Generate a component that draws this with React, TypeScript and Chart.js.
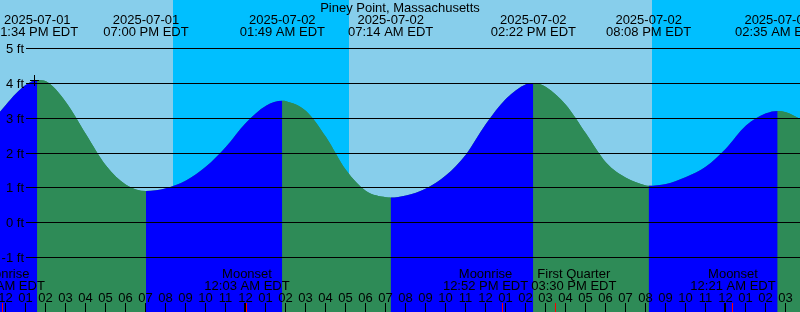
import React, { useEffect, useRef } from "react";
import { Chart, registerables } from "chart.js";

Chart.register(...registerables);

// ---- data (hours counted from 2025-07-01 12:00 PM EDT) ----
const title = "Piney Point, Massachusetts";

const tideHours = [
  -0.3, 0, 0.5, 1, 1.567, 2, 3, 4, 5, 6, 7, 8, 9, 10, 11, 12, 13, 13.817, 14, 15,
  16, 17, 18, 19, 19.233, 20, 21, 22, 23, 24, 25, 26, 26.367, 27, 28, 29, 30, 31,
  32, 32.133, 33, 34, 35, 36, 37, 38, 38.583, 39, 39.7,
];
const tideHeights = [
  3.18, 3.38, 3.7, 3.95, 4.09, 4.05, 3.45, 2.53, 1.63, 1.08, 0.9, 0.98, 1.2, 1.6,
  2.17, 2.86, 3.35, 3.49, 3.48, 3.2, 2.45, 1.5, 0.9, 0.72, 0.71, 0.77, 0.97, 1.35,
  1.95, 2.83, 3.55, 3.97, 4.0, 3.89, 3.37, 2.55, 1.72, 1.28, 1.06, 1.05, 1.1, 1.3,
  1.6, 2.12, 2.78, 3.13, 3.2, 3.16, 2.97,
];

const extremeHours = [1.567, 7.0, 13.817, 19.233, 26.367, 32.133, 38.583];
const extremeDates = [
  "2025-07-01", "2025-07-01", "2025-07-02", "2025-07-02", "2025-07-02", "2025-07-02", "2025-07-03",
];
const extremeTimes = [
  " 1:34 PM EDT", "07:00 PM EDT", "01:49 AM EDT", "07:14 AM EDT", "02:22 PM EDT", "08:08 PM EDT", "02:35 AM EDT",
];

const moonHours = [-0.165, 12.05, 24.867, 27.5, 36.35];
const moonNames = ["Moonrise", "Moonset", "Moonrise", "First Quarter", "Moonset"];
const moonTimes = ["11:50 AM EDT", "12:03 AM EDT", "12:52 PM EDT", "03:30 PM EDT", "12:21 AM EDT"];

const sunsetHours = [8.33, 32.32];
const sunriseHours = [17.17, 41.17];

const heightTicks = [-1, 0, 1, 2, 3, 4, 5];
const hourTicks = Array.from({ length: 40 }, (_, i) => i);
const startClockHour = 12;

const nowHour = 1.4;
const nowHeight = 4.09;

// ---- view ----
const X_MIN = -0.3;
const X_MAX = 39.7;
const Y_MIN = -2.578;
const Y_MAX = 6.388;

const DAY = "#87CEEB";
const NIGHT = "#00BFFF";
const FLOOD = "#0000FF";
const EBB = "#2E8B57";
const FONT = '13px "Liberation Sans", Arial, Helvetica, sans-serif';

const hourLabel = (h: number) => {
  const c = (startClockHour + h) % 12;
  const v = c === 0 ? 12 : c;
  return v < 10 ? "0" + v : String(v);
};

const decor = {
  id: "tideDecor",
  beforeDraw(chart: any) {
    const { ctx } = chart;
    const x = chart.scales.x;
    ctx.save();
    ctx.fillStyle = DAY;
    ctx.fillRect(0, 0, chart.width, chart.height);
    ctx.fillStyle = NIGHT;
    sunsetHours.forEach((s, i) => {
      const a = Math.round(x.getPixelForValue(s));
      const b = Math.round(x.getPixelForValue(sunriseHours[i]));
      ctx.fillRect(a, 0, b - a, chart.height);
    });
    ctx.restore();
  },
  afterDatasetsDraw(chart: any) {
    const { ctx } = chart;
    const x = chart.scales.x;
    const y = chart.scales.y;
    const W = chart.width;
    const H = chart.height;
    ctx.save();
    ctx.font = FONT;
    ctx.fillStyle = "#000";
    ctx.strokeStyle = "#000";
    ctx.lineWidth = 1;

    // height grid + labels
    heightTicks.forEach((v) => {
      const py = Math.round(y.getPixelForValue(v));
      ctx.beginPath();
      ctx.moveTo(26, py + 0.5);
      ctx.lineTo(W, py + 0.5);
      ctx.stroke();
      ctx.textAlign = "right";
      ctx.textBaseline = "middle";
      ctx.fillText(v + " ft", 24, py + 1);
    });

    // title
    ctx.textAlign = "center";
    ctx.textBaseline = "alphabetic";
    ctx.fillText(title, W / 2, 12);

    // extremes labels
    extremeHours.forEach((h, i) => {
      const px = x.getPixelForValue(h);
      ctx.fillText(extremeDates[i], px, 24);
      ctx.fillText(extremeTimes[i], px, 36);
    });

    // now marker
    {
      const px = Math.round(x.getPixelForValue(nowHour));
      const py = Math.round(y.getPixelForValue(nowHeight));
      ctx.fillRect(px - 4, py, 9, 1);
      ctx.fillRect(px, py - 5, 1, 11);
    }

    // hour ticks + labels
    hourTicks.forEach((h) => {
      const col = Math.round(x.getPixelForValue(h)) - 1;
      const midnight = (startClockHour + h) % 24 === 0;
      ctx.fillStyle = "#000";
      if (midnight) ctx.fillRect(col - 1, 303, 2, H - 303);
      else ctx.fillRect(col, 303, 1, H - 303);
      ctx.textAlign = "center";
      ctx.fillText(hourLabel(h), col + 0.5, 302);
    });

    // moon events: red ticks
    ctx.fillStyle = "#FF0000";
    moonHours.forEach((h) => {
      const col = Math.round(x.getPixelForValue(h)) - 1;
      ctx.fillRect(col, 303, 1, H - 303);
    });

    // moon labels with simple overlap avoidance
    ctx.fillStyle = "#000";
    const items = moonHours.map((h, i) => {
      const w = Math.max(ctx.measureText(moonNames[i]).width, ctx.measureText(moonTimes[i]).width);
      return { c: x.getPixelForValue(h), w, i };
    });
    for (let k = 0; k < items.length - 1; k++) {
      const a = items[k];
      const b = items[k + 1];
      const need = a.w / 2 + b.w / 2 + 3;
      const d = b.c - a.c;
      if (d < need) {
        const s = (need - d) / 2;
        a.c -= s;
        b.c += s;
      }
    }
    items.forEach((it) => {
      ctx.textAlign = "center";
      ctx.fillText(moonNames[it.i], it.c, 278);
      ctx.fillText(moonTimes[it.i], it.c, 290);
    });

    ctx.restore();
  },
};

export default function App() {
  const ref = useRef<HTMLCanvasElement | null>(null);
  useEffect(() => {
    document.body.style.margin = "0";
    const canvas = ref.current;
    if (!canvas) return;
    const points = tideHours.map((h, i) => ({ x: h, y: tideHeights[i] }));
    const common = {
      data: points,
      fill: "start",
      borderColor: "rgba(0,0,0,0)",
      borderWidth: 0,
      pointRadius: 0,
      cubicInterpolationMode: "monotone",
    };
    const chart = new Chart(canvas, {
      type: "line",
      data: {
        datasets: [
          {
            ...common,
            backgroundColor: EBB,
            segment: {
              backgroundColor: (c: any) => (c.p1.parsed.y >= c.p0.parsed.y ? FLOOD : EBB),
            },
          } as any,
          {
            ...common,
            backgroundColor: EBB,
          } as any,
        ],
      },
      options: {
        animation: false,
        responsive: false,
        maintainAspectRatio: false,
        devicePixelRatio: 1,
        events: [],
        layout: { padding: 0, autoPadding: false } as any,
        plugins: {
          legend: { display: false },
          tooltip: { enabled: false },
          title: { display: false },
        },
        scales: {
          x: { type: "linear", min: X_MIN, max: X_MAX, display: false },
          y: { type: "linear", min: Y_MIN, max: Y_MAX, display: false },
        },
      },
      plugins: [decor],
    });
    return () => chart.destroy();
  }, []);
  return (
    <canvas
      ref={ref}
      width={800}
      height={312}
      style={{ position: "absolute", left: 0, top: 0, display: "block", width: 800, height: 312 }}
    />
  );
}
